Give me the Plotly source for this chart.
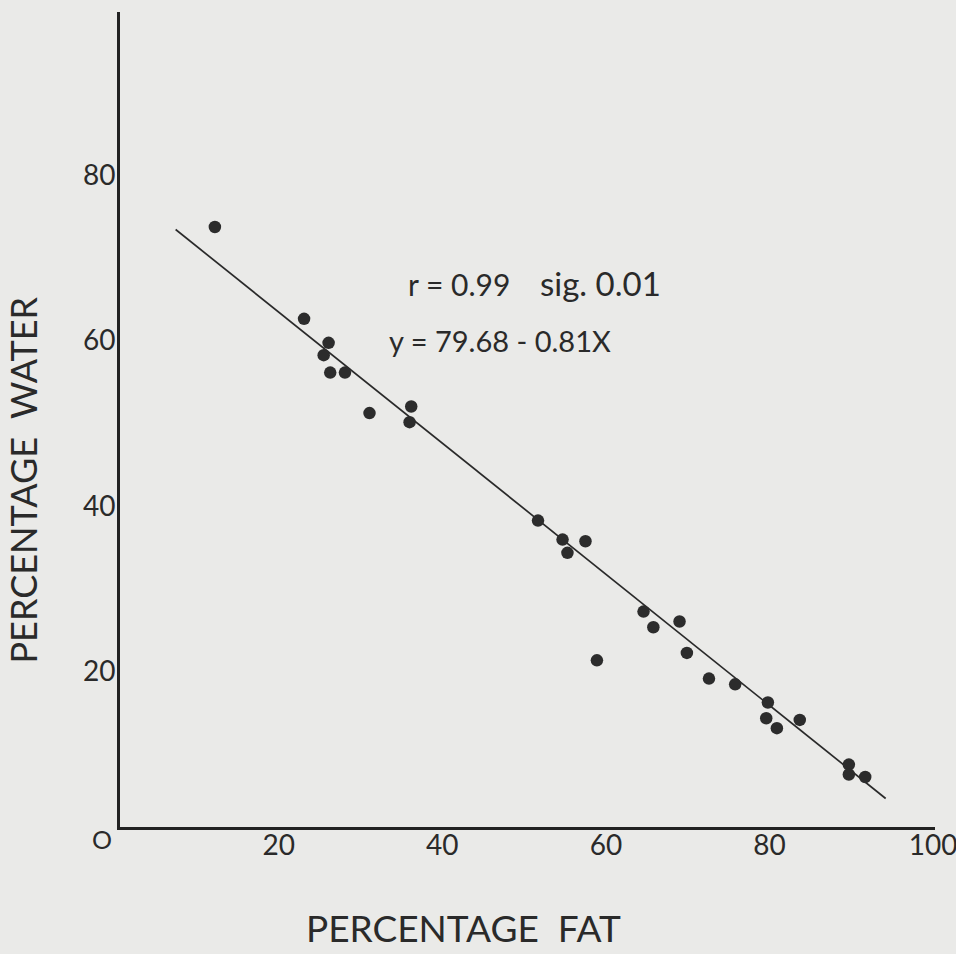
import plotly.graph_objects as go

# Data (percentage fat vs percentage water)
fat_pct = [12.2, 23.1, 26.1, 25.5, 26.3, 28.1, 31.1, 36.2, 36.0,
           51.7, 54.7, 55.3, 57.5, 58.9, 64.6, 65.8, 69.0, 69.9, 72.6, 75.8,
           79.8, 79.6, 80.9, 83.7, 89.7, 89.7, 91.7]
water_pct = [73.7, 62.6, 59.7, 58.2, 56.1, 56.1, 51.2, 52.0, 50.1,
             38.2, 35.9, 34.3, 35.7, 21.3, 27.2, 25.3, 26.0, 22.2, 19.1, 18.4,
             16.2, 14.3, 13.1, 14.1, 8.7, 7.5, 7.2]

# Regression line as drawn (y = 79.68 - 0.81X), end points
fit_x = [7.4, 94.2]
fit_y = [73.4, 4.6]

x_ticks = [20, 40, 60, 80, 100]
y_ticks = [20, 40, 60, 80]

FONT = "Lato"
INK = "#2a2a2a"
BG = "#eaeae8"

fig = go.Figure()
fig.add_trace(go.Scatter(x=fit_x, y=fit_y, mode="lines",
                         line=dict(color=INK, width=1.7), showlegend=False,
                         hoverinfo="skip"))
fig.add_trace(go.Scatter(x=fat_pct, y=water_pct, mode="markers",
                         marker=dict(color="#2c2c2c", size=12.5, line=dict(width=0)),
                         showlegend=False))

fig.add_annotation(x=35.57, y=66.8, xref="x", yref="y", xanchor="left", yanchor="middle",
                   text="r = 0.99", showarrow=False,
                   font=dict(family=FONT, size=30, color=INK))
fig.add_annotation(x=51.7, y=66.9, xref="x", yref="y", xanchor="left", yanchor="middle",
                   text="sig. 0.01", showarrow=False,
                   font=dict(family=FONT, size=33, color=INK))
fig.add_annotation(x=33.2, y=60.0, xref="x", yref="y", xanchor="left", yanchor="middle",
                   text="y = 79.68 - 0.81X", showarrow=False,
                   font=dict(family=FONT, size=29, color=INK))
fig.add_annotation(x=-0.0215, y=-0.0153, xref="paper", yref="paper",
                   xanchor="center", yanchor="middle",
                   text="O", showarrow=False,
                   font=dict(family=FONT, size=25, color=INK))
fig.add_annotation(x=0.421, y=-0.1227, xref="paper", yref="paper",
                   xanchor="center", yanchor="middle",
                   text="PERCENTAGE  FAT", showarrow=False,
                   font=dict(family=FONT, size=37, color=INK))
fig.add_annotation(x=-0.1196, y=0.4258, xref="paper", yref="paper",
                   xanchor="center", yanchor="middle", textangle=-90,
                   text="PERCENTAGE  WATER", showarrow=False,
                   font=dict(family=FONT, size=36, color=INK))

fig.update_layout(
    width=956, height=954,
    margin=dict(l=120, r=21, t=12, b=127, autoexpand=False),
    paper_bgcolor=BG, plot_bgcolor=BG,
    font=dict(family=FONT, color=INK, size=28),
    xaxis=dict(range=[0.6, 100.23], tickvals=x_ticks, ticktext=[str(v) for v in x_ticks],
               showgrid=False, zeroline=False, showline=True, linecolor="#222222", linewidth=3,
               ticks="", tickfont=dict(size=28), ticklabelstandoff=-9,
               ticklabeloverflow="allow", automargin=False),
    yaxis=dict(range=[1.15, 99.7], tickvals=y_ticks, ticktext=[str(v) for v in y_ticks],
               showgrid=False, zeroline=False, showline=True, linecolor="#222222", linewidth=3,
               ticks="", tickfont=dict(size=28), ticklabelstandoff=-4,
               ticklabeloverflow="allow", automargin=False),
)

fig.write_html("out.html", config={"displayModeBar": False},
               post_script="document.body.style.margin='0';document.body.style.background='#eaeae8';")
